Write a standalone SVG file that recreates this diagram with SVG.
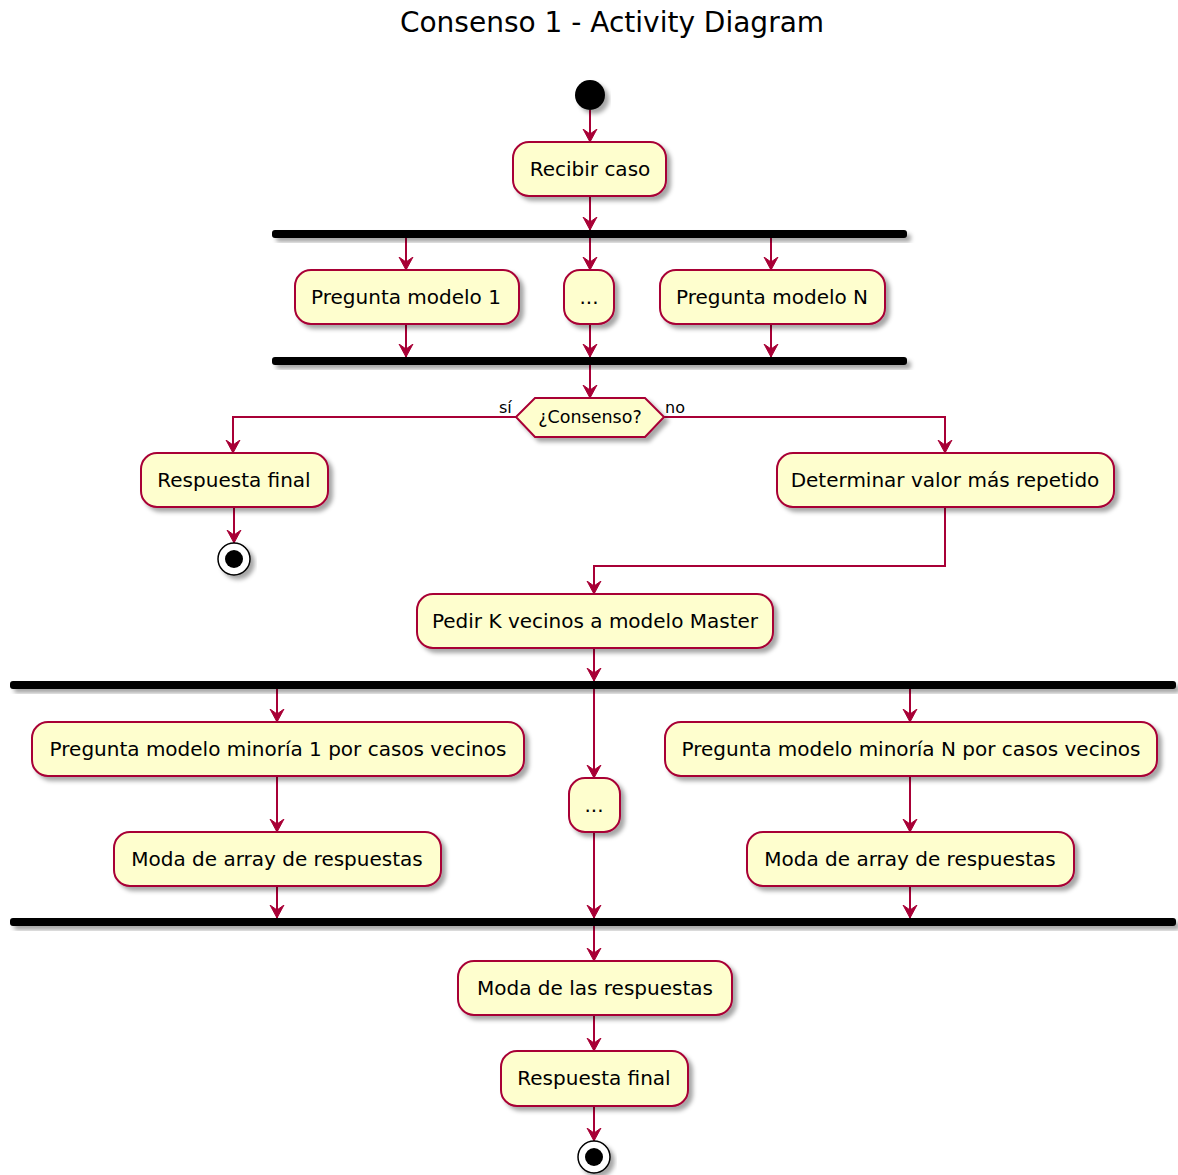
<svg xmlns="http://www.w3.org/2000/svg" width="1178" height="1175" viewBox="0 0 1178 1175">
<style>
.box{fill:#FEFECE;stroke:#A80036;stroke-width:2;filter:url(#sh)}
.t{font-family:"DejaVu Sans",sans-serif;font-size:20px;fill:#000;text-anchor:middle}
.s{font-family:"DejaVu Sans",sans-serif;font-size:16px;fill:#000}
.d{font-family:"DejaVu Sans",sans-serif;font-size:17.5px;fill:#000;text-anchor:middle}
.bar{fill:#000;filter:url(#sh)}
.ln{fill:none;stroke:#A80036;stroke-width:2}
.ar{marker-end:url(#ah)}
</style>
<defs>
<filter id="sh" x="-20%" y="-40%" width="140%" height="200%">
<feDropShadow dx="4" dy="4" stdDeviation="2" flood-color="#000" flood-opacity="0.35"/>
</filter>
<marker id="ah" markerUnits="userSpaceOnUse" markerWidth="14" markerHeight="16" viewBox="0 -8 14 16" refX="13" refY="0" orient="auto">
<path d="M0,-7 L13,0 L0,7 L5,0 Z" fill="#A80036" stroke="#A80036" stroke-width="1"/>
</marker>
</defs>
<rect width="1178" height="1175" fill="#fff"/>
<text x="612" y="32" font-family="DejaVu Sans, sans-serif" font-size="28" text-anchor="middle" fill="#000">Consenso 1 - Activity Diagram</text>

<g id="connectors">
<path class="ln ar" d="M590,110 L590,142"/>
<path class="ln ar" d="M590,196 L590,230"/>
<path class="ln ar" d="M406,238 L406,270"/>
<path class="ln ar" d="M590,238 L590,270"/>
<path class="ln ar" d="M771,238 L771,270"/>
<path class="ln ar" d="M406,324 L406,357"/>
<path class="ln ar" d="M590,324 L590,357"/>
<path class="ln ar" d="M771,324 L771,357"/>
<path class="ln ar" d="M590,365 L590,398"/>
<path class="ln ar" d="M516,417 L233,417 L233,453"/>
<path class="ln ar" d="M664,417 L945,417 L945,453"/>
<path class="ln ar" d="M234,507 L234,543"/>
<path class="ln ar" d="M945,507 L945,566 L594,566 L594,594"/>
<path class="ln ar" d="M594,648 L594,681"/>
<path class="ln ar" d="M277,689 L277,722"/>
<path class="ln ar" d="M594,689 L594,778"/>
<path class="ln ar" d="M910,689 L910,722"/>
<path class="ln ar" d="M277,776 L277,832"/>
<path class="ln ar" d="M910,776 L910,832"/>
<path class="ln ar" d="M277,886 L277,918"/>
<path class="ln ar" d="M594,832 L594,918"/>
<path class="ln ar" d="M910,886 L910,918"/>
<path class="ln ar" d="M594,926 L594,961"/>
<path class="ln ar" d="M594,1015 L594,1051"/>
<path class="ln ar" d="M594,1106 L594,1141"/>
<text class="s" x="499" y="413">sí</text>
<text class="s" x="665" y="413">no</text>
</g>

<g id="start"><circle cx="590" cy="95" r="15" fill="#000" filter="url(#sh)"/></g>
<g id="recibir"><rect class="box" x="513" y="142" width="153" height="54" rx="16"/><text class="t" x="590" y="176">Recibir caso</text></g>
<g id="fork1"><rect class="bar" x="272" y="230" width="635" height="8" rx="3"/></g>
<g id="pm1"><rect class="box" x="295" y="270" width="224" height="54" rx="16"/><text class="t" x="406" y="304">Pregunta modelo 1</text></g>
<g id="dots1"><rect class="box" x="564" y="270" width="50" height="54" rx="16"/><text class="t" x="589" y="304">...</text></g>
<g id="pmN"><rect class="box" x="660" y="270" width="225" height="54" rx="16"/><text class="t" x="772" y="304">Pregunta modelo N</text></g>
<g id="join1"><rect class="bar" x="272" y="357" width="635" height="8" rx="3"/></g>
<g id="decision"><polygon class="box" points="516,417 535,398 645,398 664,417 645,437 535,437"/><text class="d" x="590" y="423">¿Consenso?</text></g>
<g id="resp1"><rect class="box" x="141" y="453" width="187" height="54" rx="16"/><text class="t" x="234" y="487">Respuesta final</text></g>
<g id="end1"><circle cx="234" cy="559" r="16" fill="#fff" stroke="#000" stroke-width="1.5" filter="url(#sh)"/><circle cx="234" cy="559" r="9" fill="#000"/></g>
<g id="determinar"><rect class="box" x="777" y="453" width="337" height="54" rx="16"/><text class="t" x="945" y="487">Determinar valor más repetido</text></g>
<g id="pedir"><rect class="box" x="417" y="594" width="356" height="54" rx="16"/><text class="t" x="595" y="628">Pedir K vecinos a modelo Master</text></g>
<g id="fork2"><rect class="bar" x="10" y="681" width="1166" height="8" rx="3"/></g>
<g id="pmm1"><rect class="box" x="32" y="722" width="492" height="54" rx="16"/><text class="t" x="278" y="756">Pregunta modelo minoría 1 por casos vecinos</text></g>
<g id="moda1"><rect class="box" x="114" y="832" width="327" height="54" rx="16"/><text class="t" x="277" y="866">Moda de array de respuestas</text></g>
<g id="dots2"><rect class="box" x="569" y="778" width="51" height="54" rx="16"/><text class="t" x="594" y="812">...</text></g>
<g id="pmmN"><rect class="box" x="665" y="722" width="492" height="54" rx="16"/><text class="t" x="911" y="756">Pregunta modelo minoría N por casos vecinos</text></g>
<g id="modaN"><rect class="box" x="747" y="832" width="327" height="54" rx="16"/><text class="t" x="910" y="866">Moda de array de respuestas</text></g>
<g id="join2"><rect class="bar" x="10" y="918" width="1166" height="8" rx="3"/></g>
<g id="modaR"><rect class="box" x="458" y="961" width="274" height="54" rx="16"/><text class="t" x="595" y="995">Moda de las respuestas</text></g>
<g id="resp2"><rect class="box" x="501" y="1051" width="187" height="55" rx="16"/><text class="t" x="594" y="1085">Respuesta final</text></g>
<g id="end2"><circle cx="594" cy="1157" r="16" fill="#fff" stroke="#000" stroke-width="1.5" filter="url(#sh)"/><circle cx="594" cy="1157" r="9" fill="#000"/></g>
</svg>
